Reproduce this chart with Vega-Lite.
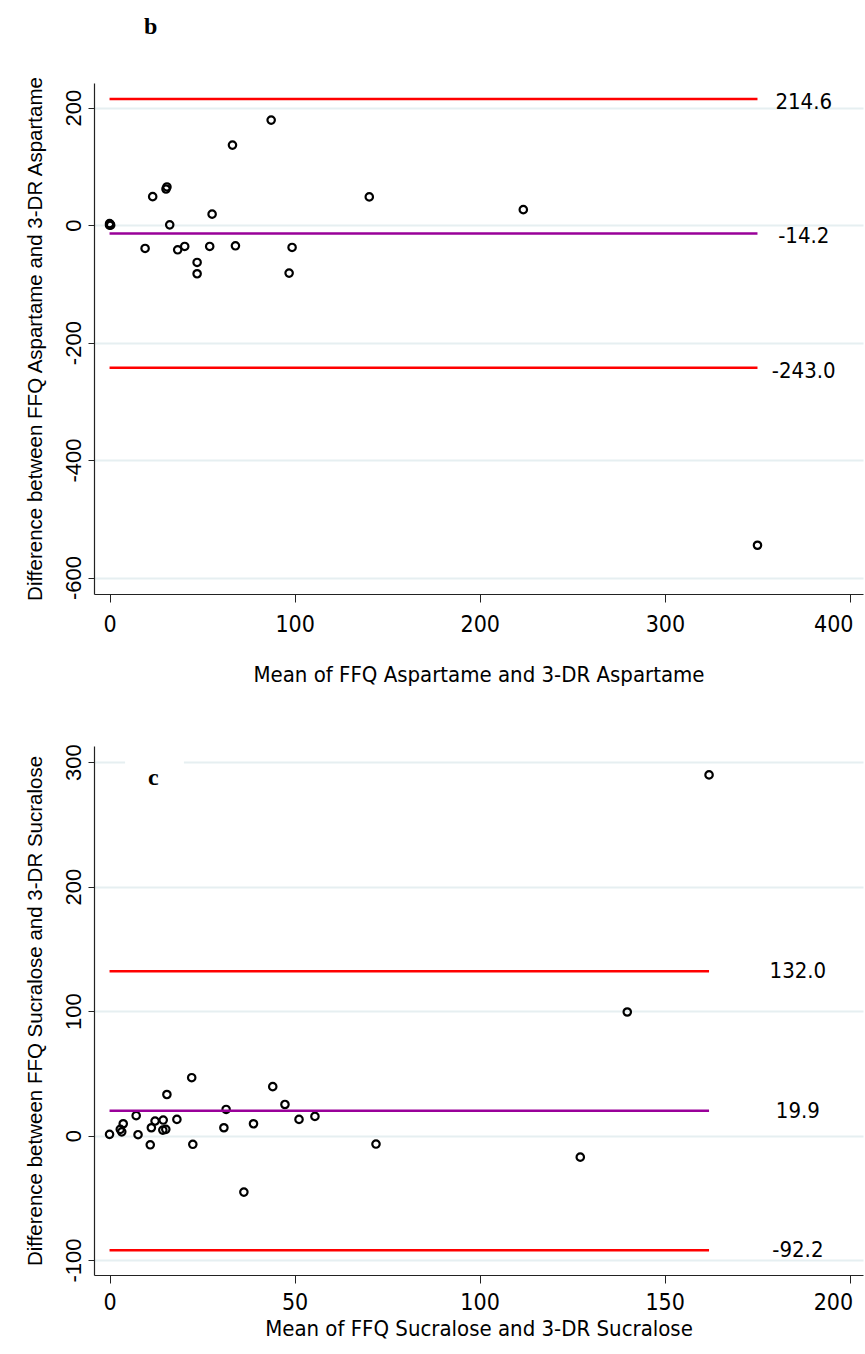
{
  "$schema": "https://vega.github.io/schema/vega-lite/v6.json",
  "background": "white",
  "padding": {"left": 24, "top": 15, "right": 3, "bottom": 5},
  "spacing": 58,
  "config": {
    "locale": {"number": {"decimal": ".", "thousands": ",", "grouping": [3], "currency": ["$", ""], "minus": "-"}},
    "view": {"stroke": null},
    "axis": {
      "domainColor": "#222222",
      "domainWidth": 1.2,
      "tickColor": "#222222",
      "labelColor": "black",
      "titleColor": "black",
      "titleFontWeight": "normal"
    },
    "axisX": {
      "grid": false,
      "tickSize": 8,
      "labelFont": "'Liberation Sans Narrow', 'Arial Narrow', 'DejaVu Sans Condensed', sans-serif",
      "labelFontSize": 23,
      "labelPadding": 11,
      "titleFont": "'Liberation Sans Narrow', 'Arial Narrow', 'DejaVu Sans Condensed', sans-serif",
      "titleFontSize": 22
    },
    "axisY": {
      "grid": true,
      "gridColor": "#e6eff1",
      "gridWidth": 2,
      "tickSize": 6,
      "labelAngle": -90,
      "labelAlign": "center",
      "labelBaseline": "bottom",
      "labelFont": "Liberation Sans",
      "labelFontSize": 22,
      "labelPadding": 3,
      "titleFont": "Liberation Sans",
      "titleFontSize": 20.5,
      "titlePadding": 17
    }
  },
  "datasets": {
    "aspartame_points": [
      {"mean": 0, "diff": 0},
      {"mean": 0.3, "diff": 1.5},
      {"mean": 0.6, "diff": 0},
      {"mean": 0, "diff": 2.5},
      {"mean": 23.3, "diff": 48.5},
      {"mean": 30.5, "diff": 61.5},
      {"mean": 31, "diff": 65},
      {"mean": 32.5, "diff": 0.5},
      {"mean": 55.4, "diff": 18.7},
      {"mean": 19.2, "diff": -39.7},
      {"mean": 36.8, "diff": -42},
      {"mean": 40.6, "diff": -36.3},
      {"mean": 54.1, "diff": -36.3},
      {"mean": 68, "diff": -35.2},
      {"mean": 47.3, "diff": -63.5},
      {"mean": 47.3, "diff": -82.8},
      {"mean": 98.6, "diff": -38},
      {"mean": 97, "diff": -81.6},
      {"mean": 140.3, "diff": 48.1},
      {"mean": 66.4, "diff": 136.3},
      {"mean": 87.3, "diff": 178.8},
      {"mean": 223.5, "diff": 26.4},
      {"mean": 350, "diff": -545}
    ],
    "aspartame_lines": [
      {"stat": "upper", "value": 214.6, "label": "214.6", "from": 0, "to": 350},
      {"stat": "mean", "value": -14.2, "label": "-14.2", "from": 0, "to": 350},
      {"stat": "lower", "value": -243.0, "label": "-243.0", "from": 0, "to": 350}
    ],
    "sucralose_points": [
      {"mean": 0, "diff": 1},
      {"mean": 2.9, "diff": 5},
      {"mean": 3.3, "diff": 3},
      {"mean": 3.7, "diff": 9.5},
      {"mean": 7.2, "diff": 16},
      {"mean": 7.7, "diff": 0.7},
      {"mean": 11, "diff": -7.4},
      {"mean": 11.3, "diff": 6.3},
      {"mean": 12.3, "diff": 11.7},
      {"mean": 14.5, "diff": 12.5},
      {"mean": 14.4, "diff": 4.4},
      {"mean": 15.2, "diff": 5},
      {"mean": 15.5, "diff": 33},
      {"mean": 18.2, "diff": 13},
      {"mean": 22.2, "diff": 46.5},
      {"mean": 22.5, "diff": -7},
      {"mean": 30.9, "diff": 6.3},
      {"mean": 31.5, "diff": 21},
      {"mean": 36.3, "diff": -45.4},
      {"mean": 38.9, "diff": 9.5},
      {"mean": 44.1, "diff": 39.3},
      {"mean": 47.4, "diff": 25},
      {"mean": 51.2, "diff": 13},
      {"mean": 55.5, "diff": 15.4},
      {"mean": 72, "diff": -6.8},
      {"mean": 127.2, "diff": -17.3},
      {"mean": 139.9, "diff": 99.3},
      {"mean": 162, "diff": 289.8}
    ],
    "sucralose_lines": [
      {"stat": "upper", "value": 132.0, "label": "132.0", "from": 0, "to": 162},
      {"stat": "mean", "value": 19.9, "label": "19.9", "from": 0, "to": 162},
      {"stat": "lower", "value": -92.2, "label": "-92.2", "from": 0, "to": 162}
    ],
    "panel_c": [{"panel": "c"}]
  },
  "vconcat": [
    {
      "title": {"text": "b", "anchor": "start", "frame": "group", "dx": 50, "offset": 36, "font": "Liberation Serif", "fontSize": 24, "fontWeight": "bold", "color": "black"},
      "width": 769,
      "height": 511,
      "layer": [
        {
          "data": {"name": "aspartame_points"},
          "mark": {"type": "point", "shape": "circle", "filled": false, "stroke": "black", "strokeWidth": 2.2, "size": 55, "opacity": 1},
          "encoding": {
            "x": {"field": "mean", "type": "quantitative",
              "scale": {"domain": [-8.4, 407], "nice": false, "zero": false},
              "axis": {"values": [0, 100, 200, 300, 400], "title": "Mean of FFQ Aspartame and 3-DR Aspartame", "titlePadding": 28,
                "labelAlign": {"expr": "datum.value == 400 ? 'right' : 'center'"}, "labelOffset": {"expr": "datum.value == 400 ? 3 : 0"}}},
            "y": {"field": "diff", "type": "quantitative",
              "scale": {"domain": [-628, 242], "nice": false, "zero": false},
              "axis": {"values": [-600, -400, -200, 0, 200], "title": "Difference between FFQ Aspartame and 3-DR Aspartame"}}
          }
        },
        {
          "data": {"name": "aspartame_lines"},
          "mark": {"type": "rule", "strokeWidth": 2.5},
          "encoding": {
            "x": {"field": "from", "type": "quantitative"},
            "x2": {"field": "to"},
            "y": {"field": "value", "type": "quantitative"},
            "color": {"field": "stat", "type": "nominal", "scale": {"domain": ["lower", "mean", "upper"], "range": ["#ff0000", "#990099", "#ff0000"]}, "legend": null}
          }
        },
        {
          "data": {"name": "aspartame_lines"},
          "mark": {"type": "text", "font": "'Liberation Sans Narrow', 'Arial Narrow', 'DejaVu Sans Condensed', sans-serif", "fontSize": 22, "align": "center", "baseline": "middle", "dy": 3, "color": "black"},
          "encoding": {
            "x": {"datum": 375},
            "y": {"field": "value", "type": "quantitative"},
            "text": {"field": "label"}
          }
        }
      ]
    },
    {
      "width": 769,
      "height": 529,
      "layer": [
        {
          "data": {"name": "sucralose_points"},
          "mark": {"type": "point", "shape": "circle", "filled": false, "stroke": "black", "strokeWidth": 2.2, "size": 55, "opacity": 1},
          "encoding": {
            "x": {"field": "mean", "type": "quantitative",
              "scale": {"domain": [-4.2, 203.6], "nice": false, "zero": false},
              "axis": {"values": [0, 50, 100, 150, 200], "title": "Mean of FFQ Sucralose and 3-DR Sucralose", "titlePadding": 4, "labelPadding": 8,
                "labelAlign": {"expr": "datum.value == 200 ? 'right' : 'center'"}, "labelOffset": {"expr": "datum.value == 200 ? 3 : 0"}}},
            "y": {"field": "diff", "type": "quantitative",
              "scale": {"domain": [-112, 313], "nice": false, "zero": false},
              "axis": {"values": [-100, 0, 100, 200, 300], "title": "Difference between FFQ Sucralose and 3-DR Sucralose"}}
          }
        },
        {
          "data": {"name": "panel_c"},
          "mark": {"type": "rect", "fill": "white"},
          "encoding": {
            "x": {"datum": 4.2},
            "x2": {"datum": 20.1},
            "y": {"datum": 276},
            "y2": {"datum": 310}
          }
        },
        {
          "data": {"name": "panel_c"},
          "mark": {"type": "text", "font": "Liberation Serif", "fontSize": 24, "fontWeight": "bold", "align": "center", "baseline": "middle", "color": "black"},
          "encoding": {
            "x": {"datum": 11.8},
            "y": {"datum": 287},
            "text": {"field": "panel"}
          }
        },
        {
          "data": {"name": "sucralose_lines"},
          "mark": {"type": "rule", "strokeWidth": 2.5},
          "encoding": {
            "x": {"field": "from", "type": "quantitative"},
            "x2": {"field": "to"},
            "y": {"field": "value", "type": "quantitative"},
            "color": {"field": "stat", "type": "nominal", "scale": {"domain": ["lower", "mean", "upper"], "range": ["#ff0000", "#990099", "#ff0000"]}, "legend": null}
          }
        },
        {
          "data": {"name": "sucralose_lines"},
          "mark": {"type": "text", "font": "'Liberation Sans Narrow', 'Arial Narrow', 'DejaVu Sans Condensed', sans-serif", "fontSize": 22, "align": "center", "baseline": "middle", "dy": 0, "color": "black"},
          "encoding": {
            "x": {"datum": 186},
            "y": {"field": "value", "type": "quantitative"},
            "text": {"field": "label"}
          }
        }
      ]
    }
  ]
}
